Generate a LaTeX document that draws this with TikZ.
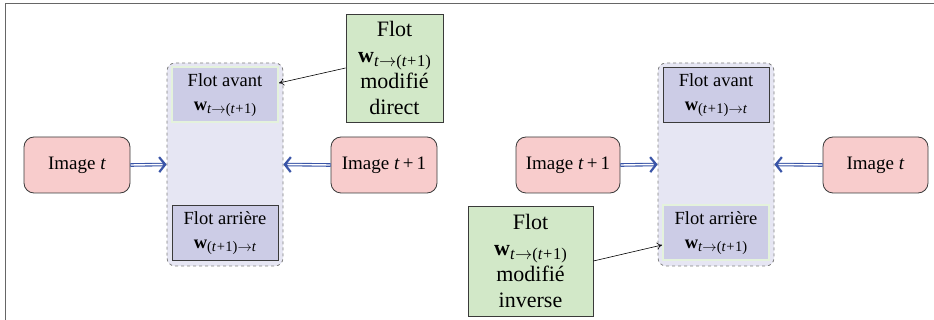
\documentclass[tikz,border=0pt]{standalone}
\usepackage{fontspec}
\setmainfont{Liberation Serif}
\usetikzlibrary{arrows.meta,calc}
\definecolor{pinkfill}{HTML}{F8CCCC}
\definecolor{lavfill}{HTML}{E6E6F3}
\definecolor{flotfill}{HTML}{CCCCE6}
\definecolor{greenfill}{HTML}{D2E8C8}
\definecolor{hlgreen}{HTML}{E4F2DC}
\definecolor{arrblue}{HTML}{3A55A8}
\definecolor{darkline}{HTML}{3A3A3A}
\newcommand\wvec[2]{\textbf{w}\raisebox{-0.35ex}{\fontsize{#1}{#1}\selectfont #2}}
\newcommand\tplus{(\textit{t}\kern0.5pt+\kern0.5pt1)}
\newcommand\fwd[1]{\wvec{#1}{\textit{t}$\to$\tplus}}
\newcommand\bwd[1]{\wvec{#1}{\tplus$\to$\textit{t}}}
\tikzset{
  imgbox/.style={draw=darkline, fill=pinkfill, rounded corners=10pt, minimum width=106pt, minimum height=56pt, line width=0.8pt, inner sep=0pt, font=\fontsize{19}{22}\selectfont},
  contbox/.style={draw=gray, dashed, fill=lavfill, rounded corners=8pt, minimum width=116pt, minimum height=203pt, line width=0.8pt, inner sep=0pt},
  flotbox/.style={draw=darkline, fill=flotfill, minimum width=106pt, minimum height=55pt, line width=0.8pt, inner sep=0pt, align=center, font=\fontsize{18.5}{24}\selectfont},
  flothl/.style={flotbox, draw=hlgreen, line width=2pt},
  greenbox/.style={draw=darkline, fill=greenfill, line width=0.8pt, inner sep=0pt, align=center, font=\fontsize{22}{26}\selectfont},
  dblouter/.style={draw=arrblue, line width=3.6pt, -{Straight Barb[length=6pt,width=15pt,line width=2.2pt]}},
  dblinner/.style={draw=white, line width=1.4pt, shorten >=4pt, shorten <=0.6pt},
  thinarrow/.style={draw=black, line width=0.6pt, -{To[length=5pt,width=7pt]}},
}
\begin{document}
\begin{tikzpicture}[x=1pt,y=-1pt]
\useasboundingbox (0,0) rectangle (934,320);
% frame
\draw[gray!80!black, line width=1pt] (5,322) -- (5,4) -- (936,4);

% left half
\node[imgbox] (imgL) at (77,165) {Image \textit{t}};
\node[contbox] (contL) at (225,164.5) {};
\node[flothl] (favL) at (225,95) {Flot avant\\\fwd{14.5}};
\node[flotbox] (farL) at (225,233) {Flot arrière\\\bwd{14.5}};
\node[imgbox] (img1L) at (384,165) {Image \textit{t}\,+\,1};
\node[greenbox, minimum width=97pt, minimum height=108pt] (gL) at (394.5,68) {Flot\\\fwd{16.5}\\modifié\\direct};

\draw[dblouter] (imgL.east) -- (contL.west);
\draw[dblinner] (imgL.east) -- (contL.west);
\draw[dblouter] (img1L.west) -- (contL.east);
\draw[dblinner] (img1L.west) -- (contL.east);
\draw[thinarrow] (gL.west) -- ([yshift=12pt]favL.east);

% right half
\node[imgbox, minimum width=104pt] (img1R) at (568,165) {Image \textit{t}\,+\,1};
\node[contbox] (contR) at (716,164.5) {};
\node[flotbox] (favR) at (716,95) {Flot avant\\\bwd{14.5}};
\node[flothl] (farR) at (716,233) {Flot arrière\\\fwd{14.5}};
\node[imgbox, minimum width=105pt] (imgR) at (875.5,165) {Image \textit{t}};
\node[greenbox, minimum width=125pt, minimum height=110pt] (gR) at (530.5,261) {Flot\\\fwd{16.5}\\modifié\\inverse};

\draw[dblouter] (img1R.east) -- (contR.west);
\draw[dblinner] (img1R.east) -- (contR.west);
\draw[dblouter] (imgR.west) -- (contR.east);
\draw[dblinner] (imgR.west) -- (contR.east);
\draw[thinarrow] (gR.east) -- ([yshift=-12pt]farR.west);
\end{tikzpicture}
\end{document}
